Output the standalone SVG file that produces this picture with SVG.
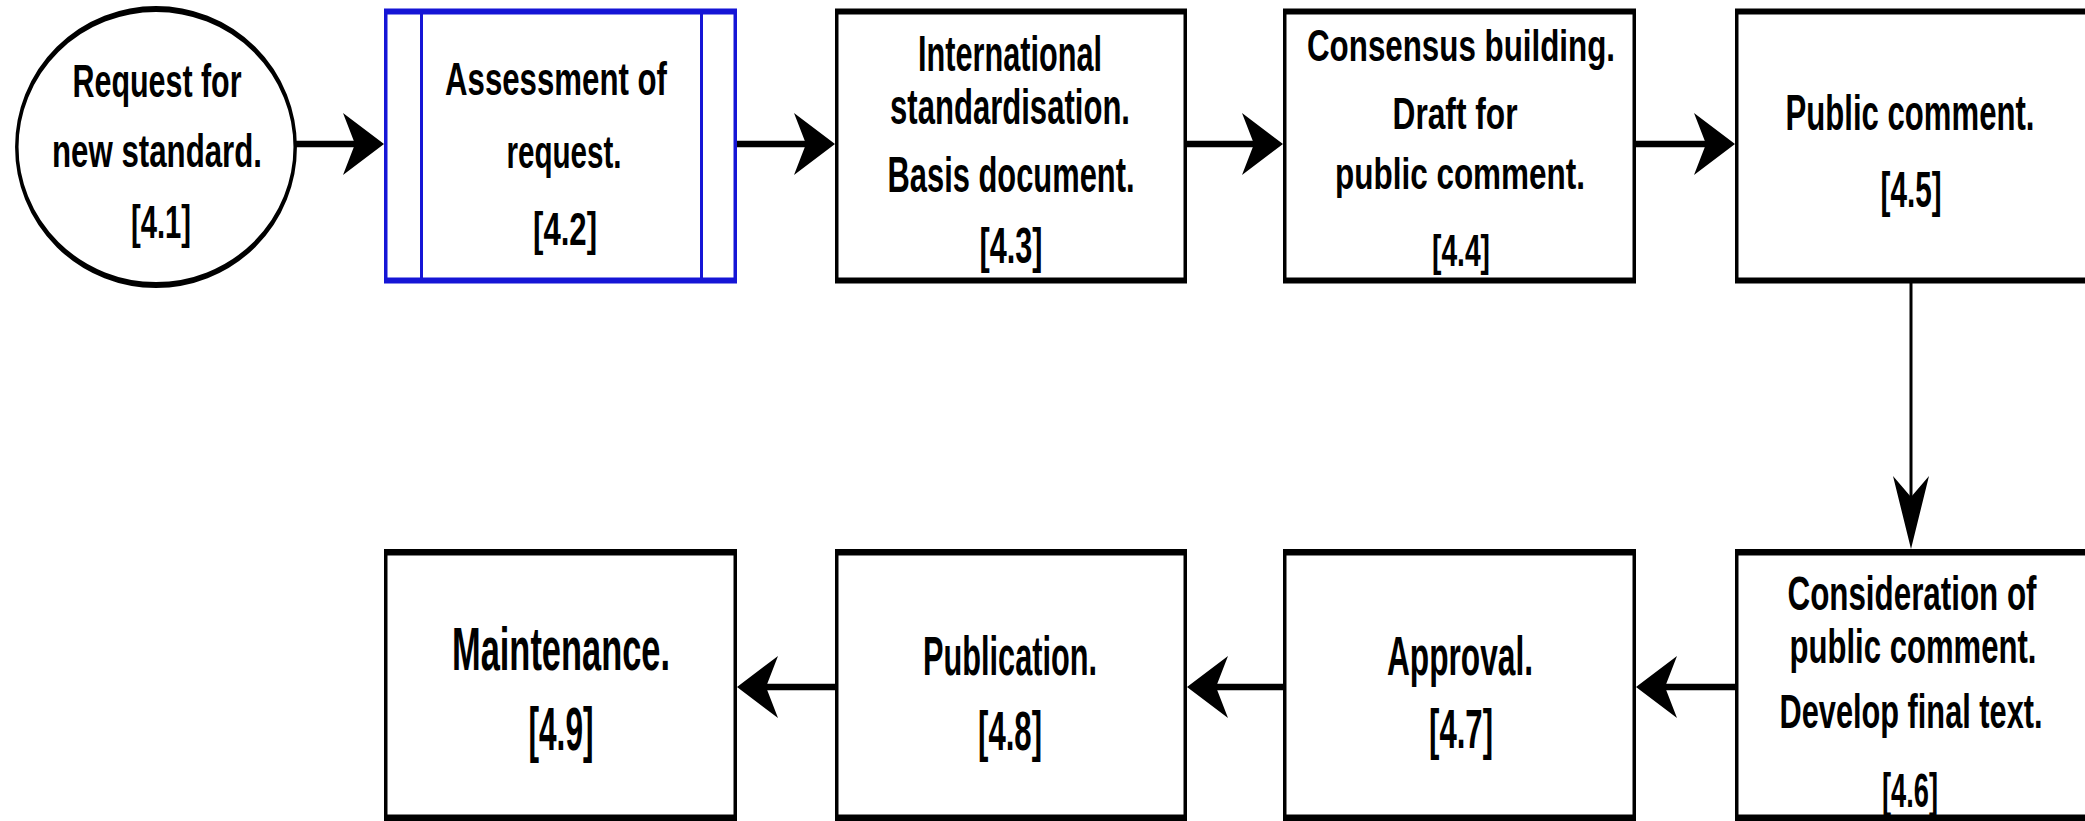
<svg xmlns="http://www.w3.org/2000/svg" width="2085" height="821" viewBox="0 0 2085 821">
<style>
.bg{fill:#ffffff}
.frame{fill:#000000}
.frameb{fill:#1515d6}
.inner{fill:#ffffff}
.t{font-family:"Liberation Sans",Arial,sans-serif;font-weight:bold;fill:#000000;text-anchor:middle}
.hline{stroke:#000000;stroke-width:6.5;fill:none}
.vline{stroke:#000000;stroke-width:3;fill:none}
.head{fill:#000000}
</style>
<defs>
<path id="ahR" d="M0,0 L-41,-31 L-29,0 L-41,31 Z"/>
<path id="ahD" d="M0,0 L-18,-73 L0,-52 L18,-73 Z"/>
</defs>
<rect class="bg" x="0" y="0" width="2085" height="821"/>

<g id="connectors">
  <line class="hline" x1="296" y1="144" x2="360" y2="144"/>
  <use href="#ahR" class="head" transform="translate(384,144)"/>
  <line class="hline" x1="737" y1="144" x2="810" y2="144"/>
  <use href="#ahR" class="head" transform="translate(835,144)"/>
  <line class="hline" x1="1187" y1="144" x2="1258" y2="144"/>
  <use href="#ahR" class="head" transform="translate(1283,144)"/>
  <line class="hline" x1="1636" y1="144" x2="1710" y2="144"/>
  <use href="#ahR" class="head" transform="translate(1735,144)"/>
  <line class="vline" x1="1911" y1="283" x2="1911" y2="505"/>
  <use href="#ahD" class="head" transform="translate(1911,549)"/>
  <line class="hline" x1="1735" y1="687" x2="1660" y2="687"/>
  <use href="#ahR" class="head" transform="translate(1636,687) scale(-1,1)"/>
  <line class="hline" x1="1283" y1="687" x2="1210" y2="687"/>
  <use href="#ahR" class="head" transform="translate(1187,687) scale(-1,1)"/>
  <line class="hline" x1="835" y1="687" x2="760" y2="687"/>
  <use href="#ahR" class="head" transform="translate(737,687) scale(-1,1)"/>
</g>

<g id="n41">
  <ellipse cx="0" cy="0" rx="240" ry="138" transform="translate(156,147) scale(0.58,1)" fill="#ffffff" stroke="#000000" stroke-width="6"/>
  <text class="t" transform="translate(157,97) scale(0.62,1)" font-size="46" textLength="272.6" lengthAdjust="spacingAndGlyphs">Request for</text>
  <text class="t" transform="translate(157,167) scale(0.62,1)" font-size="46" textLength="338.7" lengthAdjust="spacingAndGlyphs">new standard.</text>
  <text class="t" transform="translate(161,238) scale(0.62,1)" font-size="46" textLength="96.8" lengthAdjust="spacingAndGlyphs">[4.1]</text>
</g>

<g id="n42">
  <rect class="frameb" x="384" y="8.5" width="353" height="275"/>
  <rect class="inner" x="387.5" y="14.5" width="346" height="263"/>
  <rect class="frameb" x="420" y="14" width="3" height="264"/>
  <rect class="frameb" x="700" y="14" width="3" height="264"/>
  <text class="t" transform="translate(556,95) scale(0.62,1)" font-size="46" textLength="358.1" lengthAdjust="spacingAndGlyphs">Assessment of</text>
  <text class="t" transform="translate(564,168) scale(0.62,1)" font-size="46" textLength="185.5" lengthAdjust="spacingAndGlyphs">request.</text>
  <text class="t" transform="translate(565,245) scale(0.62,1)" font-size="46" textLength="103.2" lengthAdjust="spacingAndGlyphs">[4.2]</text>
</g>

<g id="n43">
  <rect class="frame" x="835" y="8.5" width="352" height="275"/>
  <rect class="inner" x="838.5" y="14.5" width="345" height="263"/>
  <text class="t" transform="translate(1010,71) scale(0.62,1)" font-size="50" textLength="296.8" lengthAdjust="spacingAndGlyphs">International</text>
  <text class="t" transform="translate(1010,124) scale(0.62,1)" font-size="50" textLength="387.1" lengthAdjust="spacingAndGlyphs">standardisation.</text>
  <text class="t" transform="translate(1011,192) scale(0.62,1)" font-size="50" textLength="398.4" lengthAdjust="spacingAndGlyphs">Basis document.</text>
  <text class="t" transform="translate(1011,263) scale(0.62,1)" font-size="50" textLength="101.6" lengthAdjust="spacingAndGlyphs">[4.3]</text>
</g>

<g id="n44">
  <rect class="frame" x="1283" y="8.5" width="353" height="275"/>
  <rect class="inner" x="1286.5" y="14.5" width="346" height="263"/>
  <text class="t" transform="translate(1461,61) scale(0.62,1)" font-size="45" textLength="496.8" lengthAdjust="spacingAndGlyphs">Consensus building.</text>
  <text class="t" transform="translate(1455,129) scale(0.62,1)" font-size="45" textLength="201.6" lengthAdjust="spacingAndGlyphs">Draft for</text>
  <text class="t" transform="translate(1460,189) scale(0.62,1)" font-size="45" textLength="403.2" lengthAdjust="spacingAndGlyphs">public comment.</text>
  <text class="t" transform="translate(1461,266) scale(0.62,1)" font-size="45" textLength="93.5" lengthAdjust="spacingAndGlyphs">[4.4]</text>
</g>

<g id="n45">
  <rect class="frame" x="1735" y="8.5" width="354" height="275"/>
  <rect class="inner" x="1738.5" y="14.5" width="347" height="263"/>
  <text class="t" transform="translate(1910,130) scale(0.62,1)" font-size="50" textLength="401.6" lengthAdjust="spacingAndGlyphs">Public comment.</text>
  <text class="t" transform="translate(1911,207) scale(0.62,1)" font-size="50" textLength="98.4" lengthAdjust="spacingAndGlyphs">[4.5]</text>
</g>

<g id="n46">
  <rect class="frame" x="1735" y="549" width="354" height="272"/>
  <rect class="inner" x="1738.5" y="555.5" width="347" height="259"/>
  <text class="t" transform="translate(1912,610) scale(0.62,1)" font-size="49" textLength="401.6" lengthAdjust="spacingAndGlyphs">Consideration of</text>
  <text class="t" transform="translate(1913,663) scale(0.62,1)" font-size="49" textLength="398.4" lengthAdjust="spacingAndGlyphs">public comment.</text>
  <text class="t" transform="translate(1911,728) scale(0.62,1)" font-size="49" textLength="424.2" lengthAdjust="spacingAndGlyphs">Develop final text.</text>
  <text class="t" transform="translate(1910,807) scale(0.62,1)" font-size="49" textLength="90.3" lengthAdjust="spacingAndGlyphs">[4.6]</text>
</g>

<g id="n47">
  <rect class="frame" x="1283" y="549" width="353" height="272"/>
  <rect class="inner" x="1286.5" y="555.5" width="346" height="259"/>
  <text class="t" transform="translate(1460,675) scale(0.62,1)" font-size="55" textLength="235.5" lengthAdjust="spacingAndGlyphs">Approval.</text>
  <text class="t" transform="translate(1461,748) scale(0.62,1)" font-size="55" textLength="103.2" lengthAdjust="spacingAndGlyphs">[4.7]</text>
</g>

<g id="n48">
  <rect class="frame" x="835" y="549" width="352" height="272"/>
  <rect class="inner" x="838.5" y="555.5" width="345" height="259"/>
  <text class="t" transform="translate(1010,675) scale(0.62,1)" font-size="55" textLength="280.6" lengthAdjust="spacingAndGlyphs">Publication.</text>
  <text class="t" transform="translate(1010,750) scale(0.62,1)" font-size="55" textLength="103.2" lengthAdjust="spacingAndGlyphs">[4.8]</text>
</g>

<g id="n49">
  <rect class="frame" x="384" y="549" width="353" height="272"/>
  <rect class="inner" x="387.5" y="555.5" width="346" height="259"/>
  <text class="t" transform="translate(561,670) scale(0.62,1)" font-size="62" textLength="351.6" lengthAdjust="spacingAndGlyphs">Maintenance.</text>
  <text class="t" transform="translate(561,750) scale(0.62,1)" font-size="62" textLength="104.8" lengthAdjust="spacingAndGlyphs">[4.9]</text>
</g>
</svg>
